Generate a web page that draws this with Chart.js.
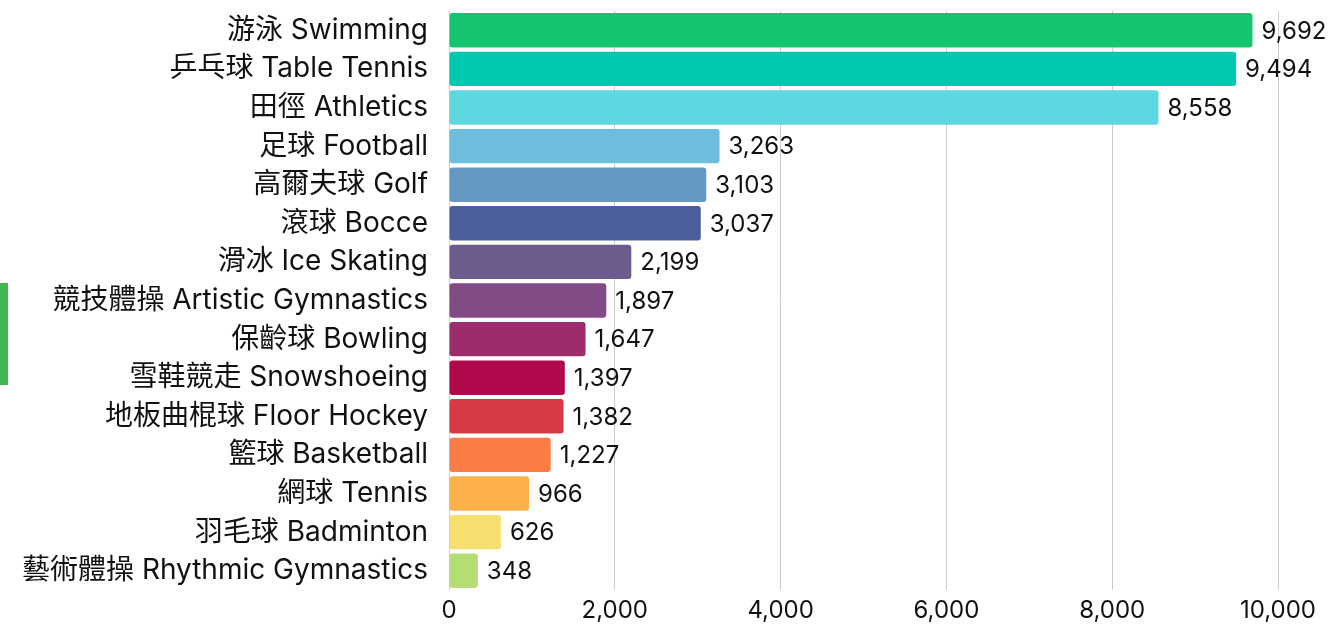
<!DOCTYPE html>
<html><head><meta charset="utf-8">
<script src="https://cdn.jsdelivr.net/npm/chart.js@4/dist/chart.umd.min.js"></script>
<style>
html,body{margin:0;padding:0;background:#fff;}
#wrap{position:relative;width:1332px;height:628px;}
#accent{position:absolute;left:0;top:283px;width:8px;height:102px;background:#3fb64f;}
</style></head>
<body><div id="wrap"><div id="accent"></div><canvas id="c" width="1332" height="628"></canvas></div>
<script>
const categories = ["游泳 Swimming","乒乓球 Table Tennis","田徑 Athletics","足球 Football","高爾夫球 Golf","滾球 Bocce","滑冰 Ice Skating","競技體操 Artistic Gymnastics","保齡球 Bowling","雪鞋競走 Snowshoeing","地板曲棍球 Floor Hockey","籃球 Basketball","網球 Tennis","羽毛球 Badminton","藝術體操 Rhythmic Gymnastics"];
const values = [9692,9494,8558,3263,3103,3037,2199,1897,1647,1397,1382,1227,966,626,348];
const barColors = ["#14c46f","#00c8b0","#5ed8e0","#6cbedc","#6399c3","#4a5f9c","#6e5b8e","#834b85","#9c2d6a","#b0084d","#d63b45","#fb7d45","#fdb14b","#f7df6f","#b4dd74"];
const xTicks = [0,2000,4000,6000,8000,10000];

const FONT = "Inter, 'Noto Sans CJK TC', sans-serif";
const valueLabels = {
  id:'valueLabels',
  afterDatasetsDraw(chart){
    const ctx = chart.ctx;
    const meta = chart.getDatasetMeta(0);
    ctx.save();
    ctx.font = "24px " + FONT;
    ctx.fillStyle = "#111";
    ctx.textBaseline = "middle";
    ctx.textAlign = "left";
    meta.data.forEach((bar,i)=>{
      ctx.fillText(values[i].toLocaleString('en-US'), bar.x + 9, bar.y + 1);
    });
    ctx.restore();
  }
};

new Chart(document.getElementById('c'), {
  type:'bar',
  data:{labels:categories, datasets:[{data:values, backgroundColor:barColors, borderColor:'#ffffff', borderWidth:0, borderRadius:3, borderSkipped:false, barPercentage:0.89, categoryPercentage:1}]},
  options:{
    indexAxis:'y', responsive:false, animation:false, devicePixelRatio:1,
    layout:{padding:{top:11,right:54,bottom:0,left:0}},
    plugins:{legend:{display:false}, tooltip:{enabled:false}},
    scales:{
      x:{min:0,max:10000,
        afterBuildTicks(s){ s.ticks = xTicks.map(v=>({value:v})); },
        afterFit(s){ s.height = 38; s.paddingLeft = 0; s.paddingRight = 0; },
        grid:{color:'#cccccc', lineWidth:1, drawTicks:false},
        border:{display:false},
        ticks:{padding:6, color:'#111', font:{family:FONT,size:24}, callback:v=>Number(v).toLocaleString('en-US')}},
      y:{
        afterFit(s){ s.width = 449; s.paddingTop = 0; s.paddingBottom = 0; },
        grid:{display:false, drawTicks:false}, border:{display:false},
        ticks:{padding:21, color:'#111', font:{family:FONT,size:28}}}
    }
  },
  plugins:[valueLabels]
});
</script></body></html>
